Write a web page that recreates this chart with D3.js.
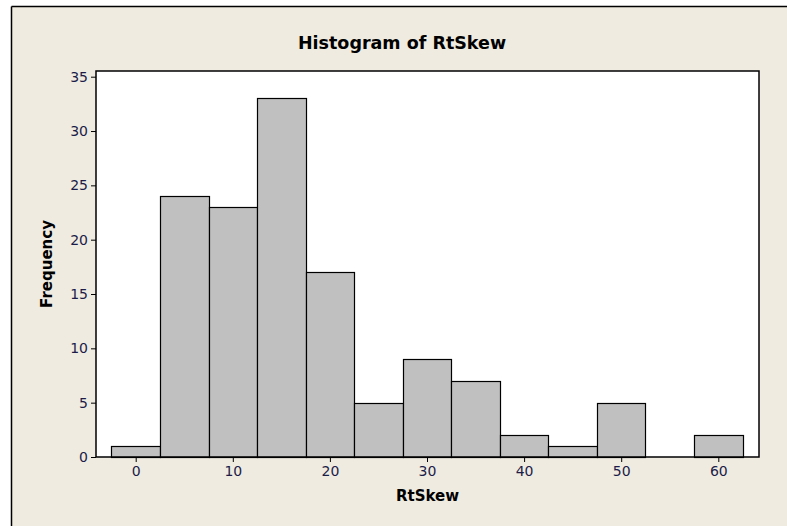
<!DOCTYPE html>
<html><head><meta charset="utf-8">
<script src="https://cdn.jsdelivr.net/npm/d3@7"></script>
<style>
html,body{margin:0;padding:0;background:#fff;}
svg{display:block;}
</style></head>
<body>
<script>
const binCenters = [0,5,10,15,20,25,30,35,40,45,50,55,60];
const frequencies = [1,24,23,33,17,5,9,7,2,1,5,0,2];
const xTicks = [0,10,20,30,40,50,60];
const yTicks = [0,5,10,15,20,25,30,35];
const binWidth = 5;

const W = 787, H = 526;
const svg = d3.select("body").append("svg").attr("width", W).attr("height", H);

// panel background
svg.append("rect").attr("x", 11.5).attr("y", 6.5).attr("width", W - 11).attr("height", H - 6)
  .attr("fill", "#efebe1");
svg.append("line").attr("x1", 11.5).attr("x2", W).attr("y1", 6.5).attr("y2", 6.5).attr("stroke", "#000").attr("stroke-width", 1.5);
svg.append("line").attr("x1", 11.5).attr("x2", 11.5).attr("y1", 6.5).attr("y2", H).attr("stroke", "#000").attr("stroke-width", 1.5);

const L = 96, R = 759, T = 71, B = 457;
const x = d3.scaleLinear().domain([0, 60]).range([135.7, 718.3]);
const y = d3.scaleLinear().domain([0, 35]).range([457, 76.7]);

svg.append("rect").attr("x", L).attr("y", T).attr("width", R - L).attr("height", B - T).attr("fill", "#fff");

svg.append("g").selectAll("rect").data(binCenters.map((c, i) => ({c, f: frequencies[i]})).filter(d => d.f > 0))
  .join("rect")
  .attr("x", d => Math.round(x(d.c - binWidth / 2)) + 0.5)
  .attr("width", d => Math.round(x(d.c + binWidth / 2)) - Math.round(x(d.c - binWidth / 2)))
  .attr("y", d => Math.round(y(d.f)) + 0.5)
  .attr("height", d => B - Math.round(y(d.f)))
  .attr("fill", "#c0c0c0").attr("stroke", "#000").attr("stroke-width", 1.2);

svg.append("rect").attr("x", L).attr("y", T).attr("width", R - L).attr("height", B - T)
  .attr("fill", "none").attr("stroke", "#000").attr("stroke-width", 1.5);

const tickColor = "#1c1c48";
const xAxis = svg.append("g").attr("transform", `translate(0,${B})`)
  .call(d3.axisBottom(x).tickValues(xTicks).tickSize(5).tickPadding(4).tickSizeOuter(0));
xAxis.select(".domain").remove();
const yAxis = svg.append("g").attr("transform", `translate(${L},0)`)
  .call(d3.axisLeft(y).tickValues(yTicks).tickSize(5).tickPadding(3).tickSizeOuter(0));
yAxis.select(".domain").remove();
[xAxis, yAxis].forEach(a => {
  a.attr("font-size", 14).attr("font-family", "'DejaVu Sans', sans-serif");
  a.selectAll("line").attr("stroke", "#000").attr("stroke-width", 1);
  a.selectAll("text").attr("fill", tickColor).attr("font-size", 14).style("font-size", "14px");
});

svg.append("text").attr("x", 402).attr("y", 49).attr("text-anchor", "middle")
  .style("font-family", "'DejaVu Sans', sans-serif").style("font-weight", "bold").style("font-size", "17.5px")
  .attr("fill", "#000").text("Histogram of RtSkew");
svg.append("text").attr("x", (L + R) / 2).attr("y", 501).attr("text-anchor", "middle")
  .style("font-family", "'DejaVu Sans', sans-serif").style("font-weight", "bold").style("font-size", "15px")
  .attr("fill", "#000").text("RtSkew");
svg.append("text").attr("transform", `translate(52,${(T + B) / 2}) rotate(-90)`).attr("text-anchor", "middle")
  .style("font-family", "'DejaVu Sans', sans-serif").style("font-weight", "bold").style("font-size", "15px")
  .attr("fill", "#000").text("Frequency");
</script>
</body></html>
